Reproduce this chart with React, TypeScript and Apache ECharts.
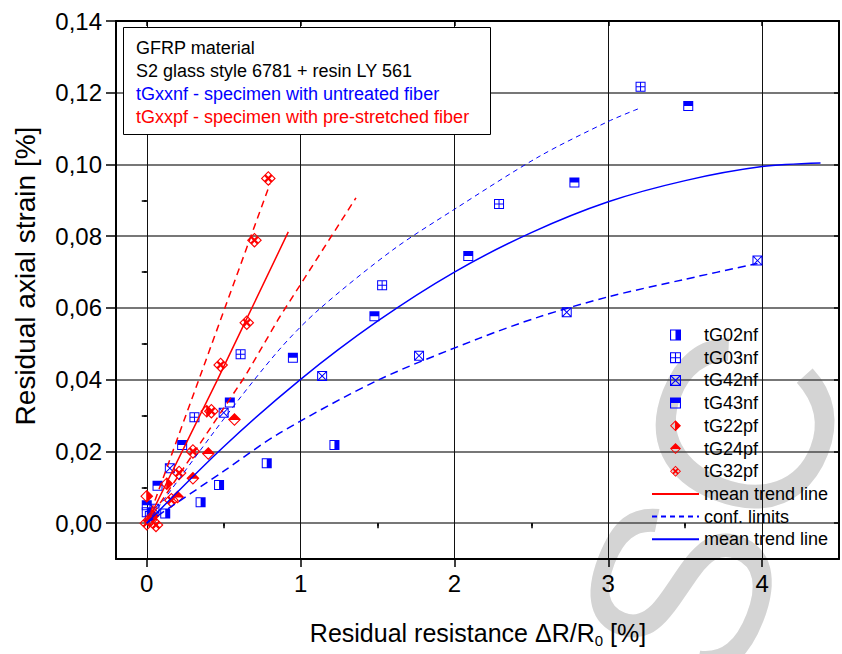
import React, { useEffect, useRef } from 'react';
import * as echarts from 'echarts';

// ---- tick values ----
const xMajor = [0, 1, 2, 3, 4];
const xMinor = [0.5, 1.5, 2.5, 3.5];
const yMajor = [0, 0.02, 0.04, 0.06, 0.08, 0.1, 0.12, 0.14];
const yMinor = [-0.01, 0.01, 0.03, 0.05, 0.07, 0.09, 0.11, 0.13];

// ---- measured points [ΔR/R0 %, strain %] ----
const tG02nf = [[0.0, 0.003], [0.12, 0.0027], [0.35, 0.0058], [0.47, 0.0106], [0.78, 0.0167], [1.22, 0.0218]];
const tG03nf = [[0.02, 0.002], [0.31, 0.0295], [0.61, 0.0471], [1.53, 0.0663], [2.29, 0.089], [3.21, 0.1217]];
const tG42nf = [[0.05, 0.004], [0.15, 0.0153], [0.5, 0.0308], [1.14, 0.041], [1.77, 0.0467], [2.73, 0.0588], [3.97, 0.0732]];
const tG43nf = [[0.0, 0.005], [0.07, 0.0104], [0.23, 0.0218], [0.54, 0.0336], [0.95, 0.0461], [1.48, 0.0577], [2.09, 0.0745], [2.78, 0.095], [3.52, 0.1163]];
const tG22pf = [[0.0, 0.0075], [0.04, 0.002], [0.13, 0.011], [0.39, 0.0312]];
const tG24pf = [[0.03, 0.001], [0.2, 0.0073], [0.3, 0.0125], [0.4, 0.0194], [0.57, 0.0289]];
const tG32pf = [[0.0, 0.0], [0.06, -0.0005], [0.16, 0.0064], [0.21, 0.014], [0.3, 0.02], [0.42, 0.0312], [0.48, 0.0441], [0.65, 0.0559], [0.7, 0.0789], [0.79, 0.0961]];

// ---- trend lines ----
const redMean = [[0, 0], [0.46, 0.04], [0.65, 0.057], [0.92, 0.0812]];
const redUpper = [[0, 0], [0.33, 0.039], [0.8, 0.0945]];
const redLower = [[0, 0], [0.64, 0.041], [0.86, 0.0572], [1.36, 0.0907]];
const blueMean = [[0, 0], [0.5, 0.0213], [1.0, 0.0401], [1.5, 0.0563], [2.0, 0.07], [2.5, 0.081], [3.0, 0.0896], [3.5, 0.0955], [4.0, 0.0994], [4.38, 0.1004]];
const blueUpper = [[0, 0], [0.5, 0.029], [0.86, 0.0483], [1.12, 0.0596], [1.6, 0.0762], [2.0, 0.0875], [2.55, 0.1022], [3.0, 0.112], [3.2, 0.1156]];
const blueLower = [[0, 0], [0.5, 0.0145], [0.86, 0.025], [1.51, 0.04], [2.16, 0.0515], [2.55, 0.0575], [3.0, 0.0631], [3.5, 0.068], [3.97, 0.0724]];

const BLUE = '#0000ff';
const RED = '#ff0000';
const FONT = 'Liberation Sans, Arial, sans-serif';

const SQ_HALF_RIGHT = 'path://M0,0L10,0L10,10L0,10Z M1,1L1,9L5,9L5,1Z';
const SQ_HALF_TOP = 'path://M0,0L10,0L10,10L0,10Z M1,5L1,9L9,9L9,5Z';
const SQ_PLUS = 'path://M0,0L10,0L10,10L0,10Z M1,1L1,4.5L4.5,4.5L4.5,1Z M5.5,1L5.5,4.5L9,4.5L9,1Z M1,5.5L1,9L4.5,9L4.5,5.5Z M5.5,5.5L5.5,9L9,9L9,5.5Z';
const SQ_X = 'path://M0,0L10,0L10,10L0,10Z M1.71,1L5,4.29L8.29,1Z M9,1.71L5.71,5L9,8.29Z M8.29,9L5,5.71L1.71,9Z M1,8.29L4.29,5L1,1.71Z';
const DIA_HALF_RIGHT = 'path://M6,0L12,6L6,12L0,6Z M5.5,1.91L1.41,6L5.5,10.09Z';
const DIA_HALF_TOP = 'path://M6,0L12,6L6,12L0,6Z M1.91,6.5L6,10.59L10.09,6.5Z';
const DIA_GRID = 'path://M6,0L12,6L6,12L0,6Z M6,1.3L4.3,3L6,4.7L7.7,3Z M9,4.3L7.3,6L9,7.7L10.7,6Z M6,7.3L4.3,9L6,10.7L7.7,9Z M3,4.3L1.3,6L3,7.7L4.7,6Z';

const X_MIN = -0.2, X_MAX = 4.5, Y_MIN = -0.01, Y_MAX = 0.14;

function scatter(name: string, data: number[][], symbol: string, color: string, size: number) {
  return {
    name, type: 'scatter', data, symbol, symbolSize: size, symbolKeepAspect: true,
    itemStyle: { color, borderWidth: 0, opacity: 1 }, xAxisIndex: 0, yAxisIndex: 0, z: 3,
  };
}
function line(name: string, data: number[][], color: string, width: number, dash: any, smooth: number) {
  return {
    name, type: 'line', data, symbol: 'none', showSymbol: false, smooth,
    lineStyle: { color, width, type: dash }, itemStyle: { color }, xAxisIndex: 0, yAxisIndex: 0, z: 4,
  };
}

const axisBlack = { color: '#000', width: 2 };
const noDot = { opacity: 0 };

export default function App() {
  const ref = useRef<HTMLDivElement>(null);
  useEffect(() => {
    document.body.style.margin = '0';
    const chart = echarts.init(ref.current!, undefined, { renderer: 'svg' });
    const xCommon = { type: 'value', min: X_MIN, max: X_MAX, splitNumber: 5 };
    const yCommon = { type: 'value', min: Y_MIN, max: Y_MAX, splitNumber: 7 };
    chart.setOption({
      animation: false,
      backgroundColor: '#fff',
      textStyle: { fontFamily: FONT },
      grid: { left: 116, right: 3, top: 21, bottom: 95 },
      xAxis: [
        {
          ...xCommon, position: 'bottom',
          axisLine: { show: true, onZero: false, lineStyle: axisBlack },
          axisTick: { show: true, customValues: xMajor, length: 8, lineStyle: { color: '#000', width: 1.5 } },
          axisLabel: { customValues: xMajor, fontSize: 24, color: '#000', margin: 12, formatter: (v: number) => String(v) },
          splitLine: { show: true, lineStyle: { color: '#111', width: 1 } },
        },
        {
          ...xCommon, position: 'bottom',
          axisLine: { show: false },
          axisTick: { show: true, customValues: xMinor, length: 5, lineStyle: { color: '#000', width: 1.5 } },
          axisLabel: { show: false }, splitLine: { show: false },
        },
        {
          ...xCommon, position: 'top',
          axisLine: { show: true, onZero: false, lineStyle: axisBlack },
          axisTick: { show: true, inside: true, customValues: xMajor, length: 5, lineStyle: { color: '#000', width: 1.5 } },
          axisLabel: { show: false }, splitLine: { show: false },
        },
        {
          ...xCommon, position: 'top',
          axisLine: { show: false },
          axisTick: { show: true, inside: true, customValues: xMinor, length: 3, lineStyle: { color: '#000', width: 1.5 } },
          axisLabel: { show: false }, splitLine: { show: false },
        },
      ],
      yAxis: [
        {
          ...yCommon, position: 'left',
          axisLine: { show: true, onZero: false, lineStyle: axisBlack },
          axisTick: { show: true, customValues: yMajor, length: 10, lineStyle: { color: '#000', width: 1.5 } },
          axisLabel: {
            customValues: yMajor, fontSize: 24, color: '#000', margin: 14,
            formatter: (v: number) => v.toFixed(2).replace('.', ','),
          },
          splitLine: { show: true, lineStyle: { color: '#4a4a4a', width: 1.5 } },
        },
        {
          ...yCommon, position: 'left',
          axisLine: { show: false },
          axisTick: { show: true, customValues: yMinor, length: 5, lineStyle: { color: '#000', width: 1.5 } },
          axisLabel: { show: false }, splitLine: { show: false },
        },
        {
          ...yCommon, position: 'right',
          axisLine: { show: true, onZero: false, lineStyle: axisBlack },
          axisTick: { show: true, inside: true, customValues: yMajor, length: 5, lineStyle: { color: '#000', width: 1.5 } },
          axisLabel: { show: false }, splitLine: { show: false },
        },
        {
          ...yCommon, position: 'right',
          axisLine: { show: false },
          axisTick: { show: true, inside: true, customValues: yMinor, length: 3, lineStyle: { color: '#000', width: 1.5 } },
          axisLabel: { show: false }, splitLine: { show: false },
        },
      ],
      legend: {
        orient: 'vertical', left: 646, top: 321, itemWidth: 47, itemHeight: 11, itemGap: 4.7,
        textStyle: { fontSize: 18, color: '#000', lineHeight: 18, fontFamily: FONT },
        selectedMode: false,
        data: [
          'tG02nf', 'tG03nf', 'tG42nf', 'tG43nf', 'tG22pf', 'tG24pf', 'tG32pf',
          { name: 'mean trend line', itemStyle: noDot },
          { name: 'conf. limits', itemStyle: noDot },
          { name: 'mean trend line ', itemStyle: noDot },
        ],
      },
      graphic: [
        {
          type: 'text', x: 680, y: 590, rotation: 1.2, z: -10, silent: true,
          style: { text: 'USC', fontSize: 250, fill: '#d4d4d4', align: 'center', verticalAlign: 'middle', fontFamily: FONT },
        },
        {
          type: 'rect', shape: { x: 123.5, y: 27.5, width: 367, height: 107 }, z: 10,
          style: { fill: '#fff', stroke: '#000', lineWidth: 1 },
        },
        { type: 'text', x: 136, y: 48, z: 11, style: { text: 'GFRP material', fontSize: 18, fill: '#000', verticalAlign: 'middle', fontFamily: FONT } },
        { type: 'text', x: 136, y: 71, z: 11, style: { text: 'S2 glass style 6781 + resin LY 561', fontSize: 18, fill: '#000', verticalAlign: 'middle', fontFamily: FONT } },
        { type: 'text', x: 136, y: 94, z: 11, style: { text: 'tGxxnf - specimen with untreated fiber', fontSize: 18, fill: BLUE, verticalAlign: 'middle', fontFamily: FONT } },
        { type: 'text', x: 136, y: 117, z: 11, style: { text: 'tGxxpf - specimen with pre-stretched fiber', fontSize: 18, fill: RED, verticalAlign: 'middle', fontFamily: FONT } },
        {
          type: 'text', x: 25, y: 276, rotation: Math.PI / 2, z: 11,
          style: { text: 'Residual axial strain [%]', fontSize: 28, fill: '#000', align: 'center', verticalAlign: 'middle', fontFamily: FONT },
        },
        {
          type: 'text', x: 478, y: 633, z: 11,
          style: {
            text: 'Residual resistance ΔR/R{sub|0} [%]', fontSize: 25, lineHeight: 30, fill: '#000', align: 'center', verticalAlign: 'middle', fontFamily: FONT,
            rich: { sub: { fontSize: 15, lineHeight: 4, verticalAlign: 'bottom', fill: '#000', fontFamily: FONT } },
          },
        },
      ],
      series: [
        scatter('tG02nf', tG02nf, SQ_HALF_RIGHT, BLUE, 10),
        scatter('tG03nf', tG03nf, SQ_PLUS, BLUE, 10),
        scatter('tG42nf', tG42nf, SQ_X, BLUE, 10),
        scatter('tG43nf', tG43nf, SQ_HALF_TOP, BLUE, 10),
        scatter('tG22pf', tG22pf, DIA_HALF_RIGHT, RED, 13),
        scatter('tG24pf', tG24pf, DIA_HALF_TOP, RED, 13),
        scatter('tG32pf', tG32pf, DIA_GRID, RED, 15),
        line('mean trend line', redMean, RED, 1.5, 'solid', 0),
        line('red upper', redUpper, RED, 1.5, [7, 5], 0),
        line('red lower', redLower, RED, 1.5, [7, 5], 0),
        line('conf. limits', blueUpper, BLUE, 1, [5, 4], 0.3),
        line('blue lower', blueLower, BLUE, 1.5, [8, 5], 0.3),
        line('mean trend line ', blueMean, BLUE, 1.5, 'solid', 0.3),
      ],
    });
    return () => chart.dispose();
  }, []);
  return <div ref={ref} style={{ width: 842, height: 654 }} />;
}
